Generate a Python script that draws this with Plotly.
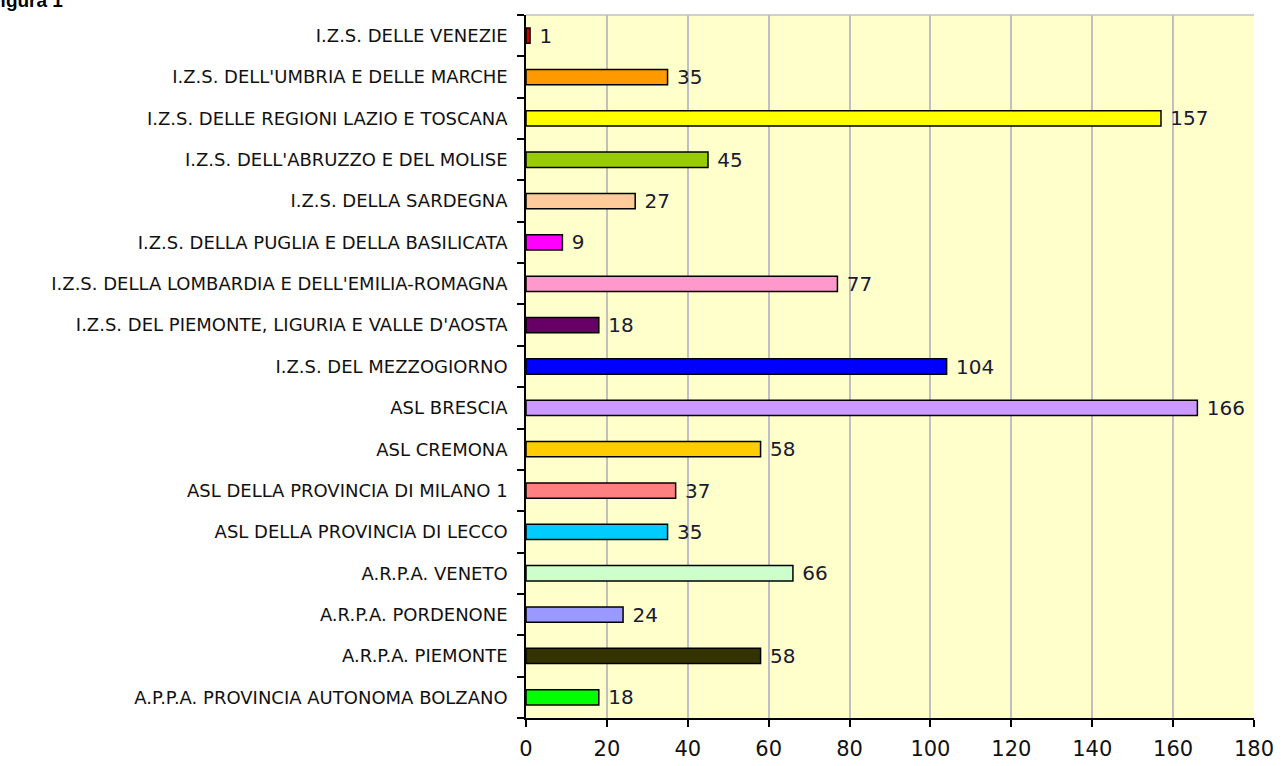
import plotly.graph_objects as go

categories = [
    "I.Z.S. DELLE VENEZIE",
    "I.Z.S. DELL'UMBRIA E DELLE MARCHE",
    "I.Z.S. DELLE REGIONI LAZIO E TOSCANA",
    "I.Z.S. DELL'ABRUZZO E DEL MOLISE",
    "I.Z.S. DELLA SARDEGNA",
    "I.Z.S. DELLA PUGLIA E DELLA BASILICATA",
    "I.Z.S. DELLA LOMBARDIA E DELL'EMILIA-ROMAGNA",
    "I.Z.S. DEL PIEMONTE, LIGURIA E VALLE D'AOSTA",
    "I.Z.S. DEL MEZZOGIORNO",
    "ASL BRESCIA",
    "ASL CREMONA",
    "ASL DELLA PROVINCIA DI MILANO 1",
    "ASL DELLA PROVINCIA DI LECCO",
    "A.R.P.A. VENETO",
    "A.R.P.A. PORDENONE",
    "A.R.P.A. PIEMONTE",
    "A.P.P.A. PROVINCIA AUTONOMA BOLZANO",
]
values = [1, 35, 157, 45, 27, 9, 77, 18, 104, 166, 58, 37, 35, 66, 24, 58, 18]
colors = [
    "#CC0000", "#FF9900", "#FFFF00", "#99CC00", "#FFCC99", "#FF00FF",
    "#FF99CC", "#660066", "#0000FF", "#CC99FF", "#FFCC00", "#FF8080",
    "#00CCFF", "#CCFFCC", "#9999FF", "#333300", "#00FF00",
]
x_ticks = [0, 20, 40, 60, 80, 100, 120, 140, 160, 180]

FONT = "DejaVu Sans, Arial, sans-serif"

fig = go.Figure(go.Bar(
    y=categories, x=values, orientation="h",
    marker=dict(color=colors, line=dict(color="#000000", width=1.5)),
    text=["&nbsp;" + str(v) for v in values], textposition="outside",
    textfont=dict(family=FONT, size=20, color="#1a1a33"),
    constraintext="none", cliponaxis=False,
))

fig.update_layout(
    width=1281, height=766,
    margin=dict(l=526, r=27, t=15, b=48, autoexpand=False),
    paper_bgcolor="white", plot_bgcolor="#FFFFCC",
    bargap=0.63, showlegend=False,
    font=dict(family=FONT),
    xaxis=dict(
        range=[0, 180], tickvals=x_ticks, showgrid=True, gridcolor="#C0C0C0", gridwidth=1.5,
        ticks="outside", ticklen=7, tickcolor="#000", tickwidth=1.5,
        showline=True, linecolor="#000", linewidth=1.5, automargin=False,
        tickfont=dict(size=21, color="#111"), zeroline=False, ticklabelstandoff=4,
    ),
    yaxis=dict(
        categoryorder="array", categoryarray=categories[::-1],
        ticks="outside", ticklen=7, tickcolor="#000", tickwidth=1.5, tickson="boundaries",
        showline=True, linecolor="#000", linewidth=1.5, automargin=False,
        tickfont=dict(size=18, color="#111"), showgrid=False, ticklabelstandoff=13,
    ),
    shapes=[dict(type="line", xref="paper", yref="paper", x0=0, x1=1, y0=1, y1=1,
                 line=dict(color="#C0C0C0", width=1.5))],
    annotations=[dict(text="<b>Figura 1</b>", xref="paper", yref="paper",
                      x=0, y=1, xanchor="left", yanchor="bottom",
                      xshift=-539, yshift=2, showarrow=False,
                      font=dict(family="Arial, Liberation Sans", size=19, color="#000"))],
)

fig.write_html("out.html", config={"displayModeBar": False},
               post_script="document.body.style.margin='0';")
